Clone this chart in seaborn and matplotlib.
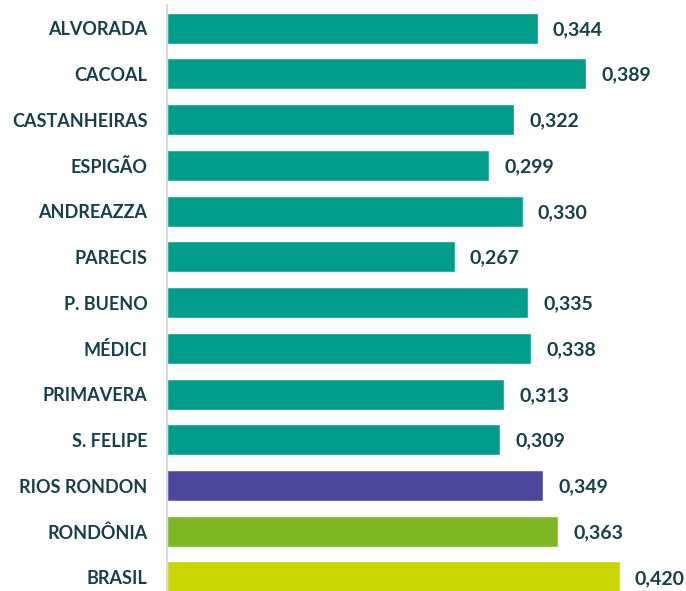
import matplotlib
matplotlib.use("Agg")
import matplotlib.pyplot as plt
import pandas as pd
import seaborn as sns

municipios = ['ALVORADA', 'CACOAL', 'CASTANHEIRAS', 'ESPIGÃO', 'ANDREAZZA', 'PARECIS',
              'P. BUENO', 'MÉDICI', 'PRIMAVERA', 'S. FELIPE', 'RIOS RONDON',
              'RONDÔNIA', 'BRASIL']
indice = [0.344, 0.389, 0.322, 0.299, 0.330, 0.267, 0.335, 0.338, 0.313, 0.309,
          0.349, 0.363, 0.420]
cores = ['#009e8a'] * 10 + ['#4b479c', '#7db724', '#cad400']

texto = '#173f4a'

sns.set_style('white')
plt.rcParams['font.family'] = ['Lato', 'DejaVu Sans']

df = pd.DataFrame({'municipio': municipios, 'indice': indice})

fig = plt.figure(figsize=(6.86, 5.91), dpi=100)
ax = fig.add_axes([0.2434, -0.0151, 0.754, 1.0063])
sns.barplot(data=df, x='indice', y='municipio', hue='municipio', palette=cores,
            legend=False, width=0.68, saturation=1, ax=ax, orient='h')

ax.set_xlim(0, 0.48)
ax.set_ylim(12.5, -0.5)
ax.set_xlabel('')
ax.set_ylabel('')
ax.set_xticks([])
for s in ['top', 'right', 'bottom']:
    ax.spines[s].set_visible(False)
ax.spines['left'].set_color('#d9d9d9')
ax.spines['left'].set_linewidth(1.5)
ax.tick_params(axis='y', length=0, pad=14)
for lbl in ax.get_yticklabels():
    lbl.set_fontweight('bold')
    lbl.set_fontsize(13)
    lbl.set_color(texto)

for i, v in enumerate(indice):
    ax.annotate(f'{v:.3f}'.replace('.', ','), (v, i), xytext=(11, -1),
                textcoords='offset points', ha='left', va='center',
                fontsize=14, fontweight='bold', color=texto)

fig.savefig('out.png', dpi=100)
